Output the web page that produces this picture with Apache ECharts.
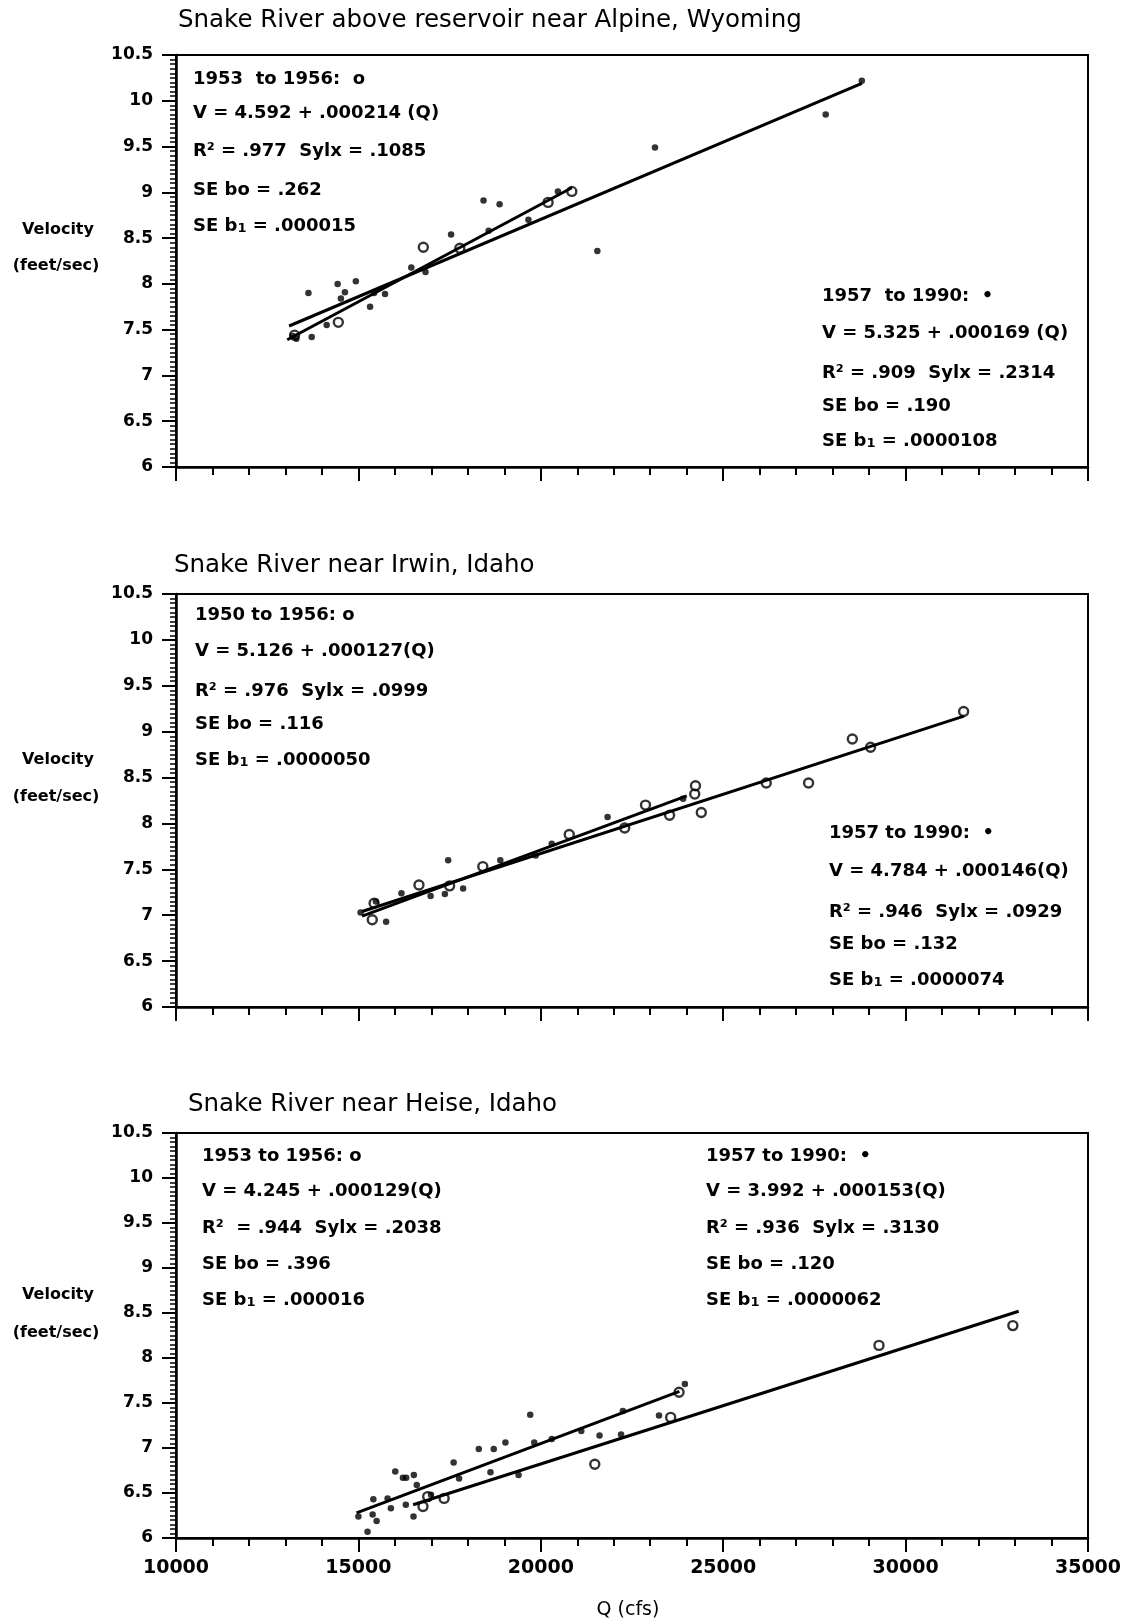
<!DOCTYPE html>
<html><head><meta charset="utf-8">
<script src="https://cdn.jsdelivr.net/npm/echarts@6/dist/echarts.min.js"></script>
<style>html,body{margin:0;padding:0;background:#fff}#c{width:1125px;height:1621px}</style>
</head><body><div id="c"></div>
<script>
// ---------- DATA ----------
// Panel 1: Snake River above reservoir near Alpine, Wyoming
const alpOpenQ = [13250, 14450, 16780, 17780, 20200, 20850];
const alpOpenV = [7.44, 7.58, 8.40, 8.39, 8.89, 9.01];
const alpFillQ = [13200, 13300, 13630, 13720, 14130, 14430, 14520, 14630, 14930, 15320, 15430, 15730, 16450, 16840, 17540, 18430, 18570, 18870, 19660, 20470, 21550, 23130, 27810, 28800];
const alpFillV = [7.43, 7.40, 7.90, 7.42, 7.55, 8.00, 7.84, 7.91, 8.03, 7.75, 7.90, 7.89, 8.18, 8.13, 8.54, 8.91, 8.58, 8.87, 8.70, 9.01, 8.36, 9.49, 9.85, 10.22];
const alpLineOpenQ = [13050, 20850];
const alpLineOpenV = [7.39, 9.05];
const alpLineFillQ = [13100, 28800];
const alpLineFillV = [7.54, 10.19];

// Panel 2: Snake River near Irwin, Idaho
const irwOpenQ = [15380, 15430, 16660, 17500, 18410, 20780, 22300, 22870, 23530, 24220, 24240, 24400, 26180, 27340, 28540, 29040, 31590];
const irwOpenV = [6.95, 7.13, 7.33, 7.32, 7.53, 7.88, 7.95, 8.20, 8.09, 8.32, 8.41, 8.12, 8.44, 8.44, 8.92, 8.83, 9.22];
const irwFillQ = [15060, 15480, 15760, 16180, 16980, 17370, 17460, 17870, 18890, 19860, 20300, 21830, 23900];
const irwFillV = [7.03, 7.15, 6.93, 7.24, 7.21, 7.23, 7.60, 7.29, 7.60, 7.65, 7.78, 8.07, 8.27];
const irwLineOpenQ = [15100, 31600];
const irwLineOpenV = [7.04, 9.17];
const irwLineFillQ = [15100, 24000];
const irwLineFillV = [6.99, 8.30];

// Panel 3: Snake River near Heise, Idaho
const heiOpenQ = [16770, 16900, 17350, 21480, 23560, 23790, 29270, 32940];
const heiOpenV = [6.35, 6.46, 6.44, 6.82, 7.34, 7.62, 8.14, 8.36];
const heiFillQ = [15000, 15250, 15390, 15410, 15500, 15800, 15890, 16010, 16220, 16310, 16300, 16510, 16520, 16600, 16990, 17610, 17760, 18300, 18620, 18710, 19030, 19390, 19710, 19820, 20300, 21110, 21610, 22200, 22250, 23240, 23950];
const heiFillV = [6.24, 6.07, 6.26, 6.43, 6.19, 6.44, 6.33, 6.74, 6.67, 6.67, 6.37, 6.24, 6.70, 6.59, 6.48, 6.84, 6.66, 6.99, 6.73, 6.99, 7.06, 6.70, 7.37, 7.06, 7.10, 7.19, 7.14, 7.15, 7.41, 7.36, 7.71];
const heiLineOpenQ = [16500, 33100];
const heiLineOpenV = [6.37, 8.52];
const heiLineFillQ = [14950, 23800];
const heiLineFillV = [6.28, 7.63];

// Axis / text
const xTicks = [10000, 15000, 20000, 25000, 30000, 35000];
const yMin = 6, yMax = 10.5, yStep = 0.5;
const titles = ['Snake River above reservoir near Alpine, Wyoming', 'Snake River near Irwin, Idaho', 'Snake River near Heise, Idaho'];
const notes = [
  [['1953  to 1956:  o', 'V = 4.592 + .000214 (Q)', 'R\u00b2 = .977  Sylx = .1085', 'SE bo = .262', 'SE b{s|1} = .000015'],
   ['1957  to 1990:  \u2022', 'V = 5.325 + .000169 (Q)', 'R\u00b2 = .909  Sylx = .2314', 'SE bo = .190', 'SE b{s|1} = .0000108']],
  [['1950 to 1956: o', 'V = 5.126 + .000127(Q)', 'R\u00b2 = .976  Sylx = .0999', 'SE bo = .116', 'SE b{s|1} = .0000050'],
   ['1957 to 1990:  \u2022', 'V = 4.784 + .000146(Q)', 'R\u00b2 = .946  Sylx = .0929', 'SE bo = .132', 'SE b{s|1} = .0000074']],
  [['1953 to 1956: o', 'V = 4.245 + .000129(Q)', 'R\u00b2  = .944  Sylx = .2038', 'SE bo = .396', 'SE b{s|1} = .000016'],
   ['1957 to 1990:  \u2022', 'V = 3.992 + .000153(Q)', 'R\u00b2 = .936  Sylx = .3130', 'SE bo = .120', 'SE b{s|1} = .0000062']]
];

// ---------- LAYOUT ----------
const FF = 'DejaVu Sans';
const grids = [
  {left: 176, right: 37, top: 55, height: 412},
  {left: 176, right: 37, top: 594, height: 413},
  {left: 176, right: 37, top: 1133, height: 405}
];
const titlePos = [[178, 21], [174, 566], [188, 1105]];
const noteLeftX = [193, 195, 202];
const noteRightX = [822, 829, 706];
const noteLeftY = [[79, 113, 151, 190, 226], [615, 651, 691, 724, 760], [1156, 1191, 1228, 1264, 1300]];
const noteRightY = [[296, 333, 373, 406, 441], [833, 871, 912, 944, 980], [1156, 1191, 1228, 1264, 1300]];
const velY = [[230, 266], [760, 797], [1295, 1333]];

const zip = (a, b) => a.map((v, i) => [v, b[i]]);

const panels = [
  {oq: alpOpenQ, ov: alpOpenV, fq: alpFillQ, fv: alpFillV, loq: alpLineOpenQ, lov: alpLineOpenV, lfq: alpLineFillQ, lfv: alpLineFillV},
  {oq: irwOpenQ, ov: irwOpenV, fq: irwFillQ, fv: irwFillV, loq: irwLineOpenQ, lov: irwLineOpenV, lfq: irwLineFillQ, lfv: irwLineFillV},
  {oq: heiOpenQ, ov: heiOpenV, fq: heiFillQ, fv: heiFillV, loq: heiLineOpenQ, lov: heiLineOpenV, lfq: heiLineFillQ, lfv: heiLineFillV}
];

const grid = grids.map(g => Object.assign({show: true, borderColor: '#000', borderWidth: 2, backgroundColor: 'transparent'}, g));

const xAxis = grids.map((g, i) => ({
  gridIndex: i, type: 'value', min: xTicks[0], max: xTicks[xTicks.length - 1], interval: xTicks[1] - xTicks[0],
  axisLine: {show: true, onZero: false, lineStyle: {color: '#000', width: 2.5}},
  axisTick: {show: true, length: 14, lineStyle: {color: '#000', width: 2}},
  minorTick: {show: true, splitNumber: 5, length: 8, lineStyle: {color: '#000', width: 2}},
  splitLine: {show: false}, minorSplitLine: {show: false},
  axisLabel: {show: i === 2, margin: 21, color: '#000', fontFamily: FF, fontWeight: 'bold', fontSize: 19, formatter: v => String(v)}
}));

const yAxis = grids.map((g, i) => ({
  gridIndex: i, type: 'value', min: yMin, max: yMax, interval: yStep,
  axisLine: {show: true, onZero: false, lineStyle: {color: '#000', width: 2.5}},
  axisTick: {show: true, length: 14, lineStyle: {color: '#000', width: 2}},
  minorTick: {show: true, splitNumber: 10, length: 6, lineStyle: {color: '#000', width: 1.5}},
  splitLine: {show: false}, minorSplitLine: {show: false},
  axisLabel: {margin: 23, color: '#000', fontFamily: FF, fontWeight: 'bold', fontSize: 17}
}));

const series = [];
panels.forEach((p, i) => {
  const lineStyle = {color: '#000', width: 3};
  series.push({type: 'line', xAxisIndex: i, yAxisIndex: i, data: zip(p.loq, p.lov), symbol: 'none', lineStyle, z: 2, silent: true, animation: false});
  series.push({type: 'line', xAxisIndex: i, yAxisIndex: i, data: zip(p.lfq, p.lfv), symbol: 'none', lineStyle, z: 2, silent: true, animation: false});
  series.push({type: 'scatter', xAxisIndex: i, yAxisIndex: i, data: zip(p.oq, p.ov), symbol: 'circle', symbolSize: 9,
    itemStyle: {color: 'rgba(0,0,0,0)', borderColor: '#000', borderWidth: 2.4}, z: 3, animation: false});
  series.push({type: 'scatter', xAxisIndex: i, yAxisIndex: i, data: zip(p.fq, p.fv), symbol: 'circle', symbolSize: 6.5,
    itemStyle: {color: '#000'}, z: 4, animation: false});
});

const graphic = [];
const noteFont = 'bold 18px "' + FF + '"';
const rich = {s: {fontFamily: FF, fontWeight: 'bold', fontSize: 13, verticalAlign: 'bottom'}};
titles.forEach((t, i) => {
  graphic.push({type: 'text', x: titlePos[i][0], y: titlePos[i][1], style: {text: t, font: '24.5px "' + FF + '"', fill: '#000', align: 'left', verticalAlign: 'middle'}});
  graphic.push({type: 'text', x: 58, y: velY[i][0], style: {text: 'Velocity', font: 'bold 16px "' + FF + '"', fill: '#000', align: 'center', verticalAlign: 'middle'}});
  graphic.push({type: 'text', x: 56, y: velY[i][1], style: {text: '(feet/sec)', font: 'bold 16px "' + FF + '"', fill: '#000', align: 'center', verticalAlign: 'middle'}});
  notes[i][0].forEach((s, k) => graphic.push({type: 'text', x: noteLeftX[i], y: noteLeftY[i][k], style: {text: s, font: noteFont, fill: '#000', align: 'left', verticalAlign: 'middle', rich}}));
  notes[i][1].forEach((s, k) => graphic.push({type: 'text', x: noteRightX[i], y: noteRightY[i][k], style: {text: s, font: noteFont, fill: '#000', align: 'left', verticalAlign: 'middle', rich}}));
});
graphic.push({type: 'text', x: 628, y: 1610, style: {text: 'Q (cfs)', font: '19px "' + FF + '"', fill: '#000', align: 'center', verticalAlign: 'middle'}});

const chart = echarts.init(document.getElementById('c'), null, {renderer: 'canvas'});
chart.setOption({backgroundColor: '#fff', animation: false, grid, xAxis, yAxis, series, graphic});
</script>
</body></html>
